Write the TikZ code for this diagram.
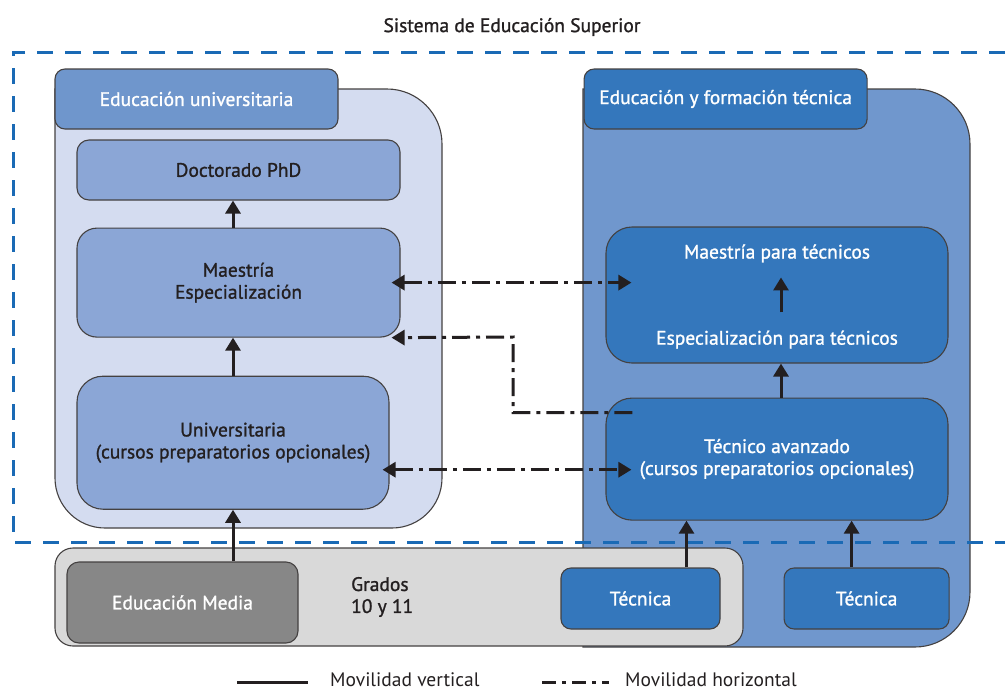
\documentclass[tikz,border=0pt]{standalone}
\usepackage{tikz}
\usepackage{fontspec}
\setmainfont{PT Sans}[BoldFont={PT Sans}, BoldFeatures={FakeBold=1.2}]
\usetikzlibrary{positioning,arrows.meta}
\definecolor{uniback}{HTML}{D4DCF0}
\definecolor{unitab}{HTML}{6F96CC}
\definecolor{unifill}{HTML}{8BA6D6}
\definecolor{tecback}{HTML}{7097CD}
\definecolor{tecfill}{HTML}{3477BC}
\definecolor{grayback}{HTML}{D9D9D9}
\definecolor{mediafill}{HTML}{878787}
\definecolor{sysblue}{HTML}{1A6AB5}
\definecolor{ink}{HTML}{231F20}

\begin{document}
\begin{tikzpicture}[x=1pt, y=1pt]
	\tikzset{
	  box/.style={draw=ink!85, line width=1.1pt, inner sep=0pt, align=center, font=\fontsize{19.5}{22}\selectfont\bfseries},
	  unibox/.style={box, fill=unifill, text=ink},
	  tecbox/.style={box, fill=tecfill, text=white},
	  vert/.style={line width=3pt, draw=ink, -{Triangle[length=13pt, width=15pt]}},
	  horiz/.style={line width=3pt, draw=ink, dash pattern=on 18pt off 6pt on 4pt off 6pt},
	  sysline/.style={line width=3pt, draw=sysblue, dash pattern=on 16pt off 12pt},
	  txt/.style={font=\fontsize{19.5}{22}\selectfont\bfseries, text=ink, inner sep=0pt},
	  legtxt/.style={font=\fontsize{19.5}{22}\selectfont, text=ink, inner sep=0pt, anchor=west}
	};
	\useasboundingbox (0,0) rectangle (1005,-691);

	\path[draw=ink!85, line width=1.1pt, fill=uniback] (55,-89) -- (387,-89) arc[start angle=90, end angle=0, radius=55] -- (442,-478) arc[start angle=0, end angle=-90, radius=50] -- (105,-528) arc[start angle=-90, end angle=-180, radius=50] -- cycle;
	\path[draw=ink!85, line width=1.1pt, fill=tecback] (583,-647) -- (583,-89) -- (915,-89) arc[start angle=90, end angle=0, radius=55] -- (970,-592) arc[start angle=0, end angle=-90, radius=55] -- cycle;
	\path[draw=ink!85, line width=1.1pt, fill=grayback, rounded corners=18pt] (55,-548) rectangle (743,-646);

	\node[box, fill=unitab, text=white, rounded corners=10pt, minimum width=283pt, minimum height=60pt] (unitabn) at (196.5,-99) {Educación universitaria};
	\node[tecbox, rounded corners=10pt, minimum width=283pt, minimum height=60pt, right=245pt of unitabn] (tectabn) {Educación y formación técnica};

	\node[unibox, rounded corners=12pt, minimum width=323pt, minimum height=60pt] (doct) at (238.5,-170) {Doctorado PhD};
	\node[unibox, rounded corners=20pt, minimum width=323pt, minimum height=109pt, below=27pt of doct] (maes) {Maestría\\Especialización};
	\node[unibox, rounded corners=26pt, minimum width=312pt, minimum height=133pt, below=38pt of maes.south west, anchor=north west] (univ) {Universitaria\\(cursos preparatorios opcionales)};

	\node[tecbox, rounded corners=26pt, minimum width=342pt, minimum height=136pt] (mpt) at (777,-295) {};
	\node[txt, text=white] (mptop) at ([yshift=-27pt]mpt.north) {Maestría para técnicos};
	\node[txt, text=white] (mpbot) at ([yshift=24pt]mpt.south) {Especialización para técnicos};
	\node[tecbox, rounded corners=26pt, minimum width=342pt, minimum height=122pt, below=34pt of mpt] (tav) {Técnico avanzado\\(cursos preparatorios opcionales)};

	\node[box, fill=mediafill, text=white, rounded corners=12pt, minimum width=231pt, minimum height=81pt] (media) at (182.5,-602.5) {Educación Media};
	\node[txt, align=left, anchor=west] (grados) at (351,-597) {Grados\\10 y 11};
	\node[tecbox, rounded corners=10pt, minimum width=159pt, minimum height=61pt] (tec1) at (640.5,-598.5) {Técnica};
	\node[tecbox, rounded corners=10pt, minimum width=165pt, minimum height=61pt, right=63pt of tec1] (tec2) {Técnica};

	\node[txt] (sys) at (512,-27) {Sistema de Educación Superior};
	\draw[sysline] (1005,-52) -- (13,-52) -- (13,-542) -- (1005,-542);

	\draw[vert] (univ.north) -- (univ.north |- maes.south);
	\draw[vert] (univ.north |- maes.north) -- (univ.north |- doct.south);
	\draw[vert] (univ.north |- media.north) -- (univ.south);
	\draw[vert] ([xshift=4pt, yshift=-86pt]mpt.north) -- ([xshift=4pt, yshift=-51pt]mpt.north);
	\draw[vert] ([xshift=4pt]mpt.south |- tav.north) -- ([xshift=4pt]mpt.south);
	\coordinate (t1) at ([xshift=46pt]tec1.north);
	\coordinate (t2) at ([xshift=-15pt]tec2.north);
	\draw[vert] (t1) -- (t1 |- tav.south);
	\draw[vert] (t2) -- (t2 |- tav.south);

	\coordinate (hm) at ([xshift=-9pt]maes.east);
	\coordinate (hu) at ([xshift=-7pt, yshift=-27pt]univ.east);
	\coordinate (hl) at ([xshift=-9pt]maes.south east);
	\coordinate (ht) at ([xshift=27pt, yshift=-15pt]tav.north west);
	\draw[horiz, {Triangle[length=13pt, width=15pt]}-{Triangle[length=13pt, width=15pt]}] (hm) -- ([xshift=26pt]hm -| mpt.west);
	\draw[horiz, {Triangle[length=13pt, width=15pt]}-{Triangle[length=13pt, width=15pt]}] (hu) -- ([xshift=26pt]hu -| tav.west);
	\draw[horiz, -{Triangle[length=13pt, width=15pt]}] (ht) -| (513,-337) -- (hl);

	\coordinate (lv) at (237,-682);
	\coordinate (lh) at (542,-682);
	\node[legtxt] (lvt) at (330,-680) {Movilidad vertical};
	\node[legtxt] (lht) at (625,-680) {Movilidad horizontal};
	\draw[line width=3pt, draw=ink] (lv) -- ++(71,0);
	\draw[horiz, dash pattern=on 14pt off 6pt on 4pt off 6pt] (lh) -- ++(67,0);
\end{tikzpicture}
\end{document}
